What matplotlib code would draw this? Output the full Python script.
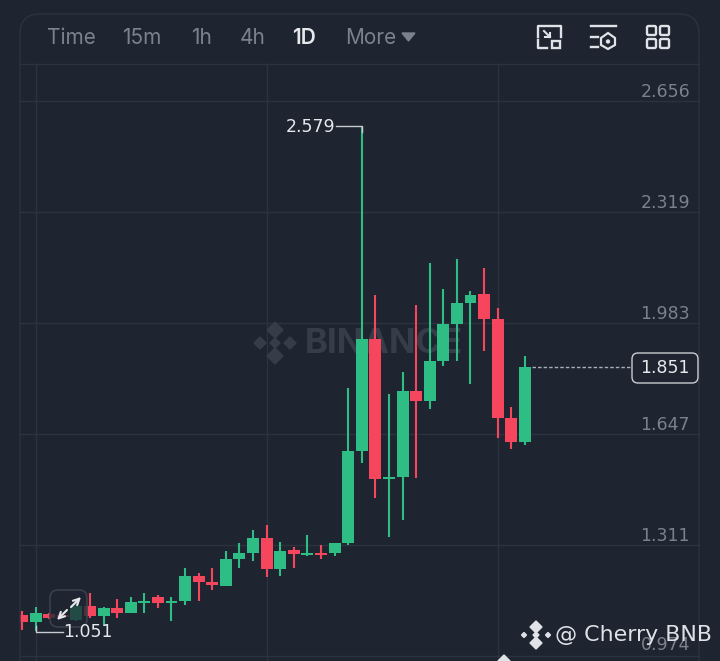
import matplotlib
matplotlib.use("Agg")
import matplotlib.pyplot as plt
from matplotlib.patches import FancyBboxPatch, Polygon, Rectangle, Circle

# daily candles
opens = [1.098, 1.077, 1.101, 1.098, 1.083, 1.126, 1.095, 1.120, 1.104, 1.135, 1.153, 1.135, 1.141,
         1.217, 1.198, 1.186, 1.268, 1.286, 1.332, 1.238, 1.295, 1.280, 1.286, 1.286, 1.317, 1.595,
         1.935, 1.510, 1.517, 1.777, 1.747, 1.868, 1.980, 2.044, 2.071, 1.995, 1.695, 1.623]
closes = [1.077, 1.104, 1.089, 1.092, 1.126, 1.095, 1.120, 1.104, 1.138, 1.141, 1.135, 1.141, 1.217,
          1.198, 1.189, 1.268, 1.286, 1.332, 1.238, 1.292, 1.283, 1.286, 1.280, 1.317, 1.595, 1.935,
          1.510, 1.517, 1.777, 1.747, 1.868, 1.980, 2.044, 2.068, 1.995, 1.695, 1.623, 1.851]
highs = [1.110, 1.123, 1.104, 1.101, 1.140, 1.165, 1.123, 1.147, 1.153, 1.165, 1.159, 1.153, 1.241,
         1.226, 1.241, 1.292, 1.317, 1.356, 1.371, 1.320, 1.304, 1.341, 1.310, 1.317, 1.786, 2.579,
         2.068, 1.768, 1.835, 2.038, 2.165, 2.086, 2.177, 2.080, 2.150, 2.029, 1.729, 1.883]
lows = [1.053, 1.051, 1.086, 1.089, 1.080, 1.089, 1.068, 1.089, 1.104, 1.104, 1.120, 1.080, 1.129,
        1.141, 1.174, 1.186, 1.241, 1.262, 1.214, 1.217, 1.241, 1.277, 1.268, 1.277, 1.310, 1.559,
        1.453, 1.335, 1.386, 1.513, 1.723, 1.853, 1.868, 1.798, 1.898, 1.635, 1.601, 1.613]
price_ticks = [2.656, 2.319, 1.983, 1.647, 1.311, 0.974]
grid_days = [1, 18, 35]
intervals = ["Time", "15m", "1h", "4h", "1D", "More"]
interval_x = [47, 122, 191, 240, 292, 345]

BG = "#1e2530"
GRID = "#2c333e"
GREEN = "#2ebd85"
RED = "#f6465d"
GREY = "#7b828d"
WHITE = "#e6e8ec"

plt.rcParams['font.family'] = ['Inter', 'DejaVu Sans']

fig = plt.figure(figsize=(7.2, 6.61), dpi=100, facecolor=BG)

# price axes fill the figure, limits chosen so the ticks land on the gridlines
ax = fig.add_axes([0, 0, 1, 1], facecolor=BG)
ax.set_xlim(-1.619, 51.36)
ax.set_ylim(0.9589, 2.9621)
ax.axis("off")

for p in price_ticks:
    ax.plot([-0.13, 49.8], [p, p], color=GRID, lw=1, zorder=1)
for d in grid_days:
    ax.plot([d, d], [0.9589, 2.768], color=GRID, lw=1, zorder=1)

# watermark sits under the candles
wm = "#363d48"
ax.text(20.8, 1.92, "BINANCE", color=wm, fontsize=25, fontweight="bold", va="center", zorder=1.5)
under = fig.add_axes([0, 0, 1, 1], facecolor="none", zorder=0.5)
under.set_xlim(0, 720)
under.set_ylim(661, 0)
under.axis("off")
for dx, dy, s in [(0, -13, 8), (0, 13, 8), (-15, 0, 6), (15, 0, 6), (0, 0, 5)]:
    under.add_patch(Polygon([(275 + dx - s, 343 + dy), (275 + dx, 343 + dy - s), (275 + dx + s, 343 + dy),
                             (275 + dx, 343 + dy + s)], color=wm))

# candles
for i in range(len(opens)):
    c = GREEN if closes[i] >= opens[i] else RED
    ax.vlines(i, lows[i], highs[i], color=c, lw=1.5, zorder=3)
    ax.bar(i, abs(closes[i] - opens[i]), bottom=min(opens[i], closes[i]), width=0.88, color=c, zorder=3)

overlay = fig.add_axes([0, 0, 1, 1], facecolor="none", zorder=6)
overlay.set_xlim(0, 720)
overlay.set_ylim(661, 0)
overlay.axis("off")

# frame and header, first candle is cut by the frame
overlay.add_patch(Rectangle((0, 0), 20, 661, fc=BG, ec="none"))
overlay.add_patch(FancyBboxPatch((20, 14), 679, 700, boxstyle="round,pad=0,rounding_size=20", fc="none", ec=GRID, lw=1))
overlay.plot([20, 699], [64, 64], color=GRID, lw=1)
for label, x in zip(intervals, interval_x):
    overlay.text(x, 38, label, color=WHITE if label == "1D" else GREY, fontsize=15,
                 fontweight="semibold" if label == "1D" else "normal", va="center", ha="left")
overlay.add_patch(Polygon([(402, 33), (415, 33), (408.5, 41)], color=GREY))

# toolbar icons
lc = "#dfe2e6"
overlay.plot([538, 538, 561, 561], [37, 26, 26, 37], color=lc, lw=1.7)
overlay.plot([538, 538, 547], [40, 48, 48], color=lc, lw=1.7)
overlay.add_patch(Rectangle((552, 41), 8, 7, fc="none", ec=lc, lw=1.7))
overlay.plot([544, 550], [31, 37], color=lc, lw=1.5)
overlay.plot([550, 550, 545], [33, 37, 37], color=lc, lw=1.5)
overlay.plot([591, 616], [26, 26], color=lc, lw=1.7)
overlay.plot([591, 598], [37, 37], color=lc, lw=1.7)
overlay.plot([591, 598], [47, 47], color=lc, lw=1.7)
overlay.add_patch(Polygon([(601, 38), (608, 33), (615, 38), (615, 45), (608, 49), (601, 45)], fc="none", ec=lc, lw=1.6))
overlay.add_patch(Circle((608, 41.5), 2.2, fc=lc, ec="none"))
for x0 in [647, 660]:
    for y0 in [26, 39]:
        overlay.add_patch(FancyBboxPatch((x0, y0), 9, 9, boxstyle="round,pad=0,rounding_size=1.5", fc="none", ec=lc, lw=1.7))

# price labels
num = "DejaVu Sans"
for p in price_ticks:
    y = (2.9621 - p) / 0.0030306
    overlay.text(690, y - 9 if p > 1 else y - 11, "%.3f" % p, color=GREY, fontsize=12.5, family=num, ha="right", va="center")

# high / low callouts
y_hi = (2.9621 - 2.579) / 0.0030306
overlay.plot([336, 362, 362], [y_hi, y_hi, y_hi + 6], color="#c8ccd2", lw=1)
overlay.text(286, y_hi + 1, "2.579", color=WHITE, fontsize=12.5, family=num, va="center")
y_lo = (2.9621 - 1.051) / 0.0030306
overlay.plot([35.5, 35.5, 63], [y_lo - 5, y_lo + 1, y_lo + 1], color="#c8ccd2", lw=1)
overlay.text(63, y_lo + 1, "1.051", color=WHITE, fontsize=12.5, family=num, va="center")

# last price
y_last = (2.9621 - closes[-1]) / 0.0030306
overlay.plot([532, 632], [y_last, y_last], color="#aab0b8", lw=1, ls=(0, (2.5, 1.5)))
overlay.add_patch(FancyBboxPatch((632, 353), 66, 30, boxstyle="round,pad=0,rounding_size=6", fc=BG, ec="#c8ccd2", lw=1))
overlay.text(665, 368, "%.3f" % closes[-1], color=WHITE, fontsize=12.5, family=num, ha="center", va="center")

# expand button over the first candles
overlay.add_patch(FancyBboxPatch((50, 590), 37, 37, boxstyle="round,pad=0,rounding_size=8", fc=BG, alpha=0.75, ec="none"))
overlay.add_patch(FancyBboxPatch((50, 590), 37, 37, boxstyle="round,pad=0,rounding_size=8", fc="none", ec="#3a414c", lw=1.2))
arrow = dict(arrowstyle="->", color=WHITE, lw=1.5, mutation_scale=11, shrinkA=0, shrinkB=0)
overlay.annotate("", xy=(81, 597), xytext=(71, 607), arrowprops=arrow)
overlay.annotate("", xy=(57, 620), xytext=(67, 610), arrowprops=arrow)

# repost watermark, second copy is cut by the bottom edge
def logo(cx, cy):
    for dx, dy, ds in [(0, -8, 6), (0, 8, 6), (-12, 0, 2.5), (12, 0, 2.5), (0, 0, 3)]:
        overlay.add_patch(Polygon([(cx + dx - ds, cy + dy), (cx + dx, cy + dy - ds), (cx + dx + ds, cy + dy),
                                   (cx + dx, cy + dy + ds)], color="#dfe2e6"))

logo(536, 635)
overlay.text(555, 635, "@ Cherry BNB", color="#dfe2e6", fontsize=15.9, family="DejaVu Sans", va="center")
logo(504, 669)
overlay.text(524, 672, "@ Cherry BNB", color="#9aa0a8", fontsize=15.9, family="DejaVu Sans", va="center")

fig.savefig("out.png", dpi=100, facecolor=BG)
